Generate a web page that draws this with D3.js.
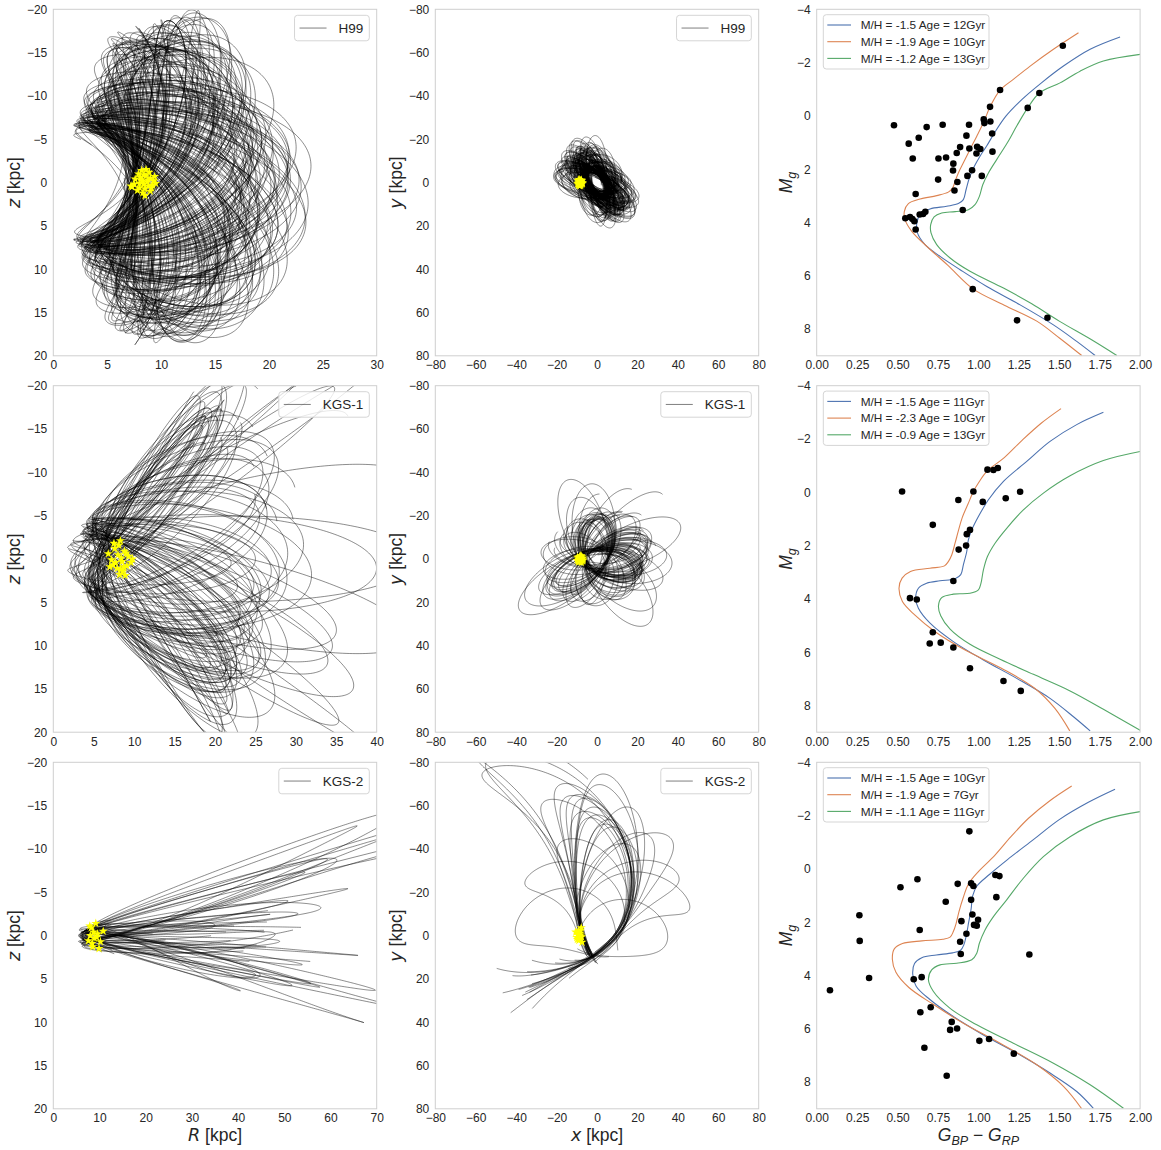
<!DOCTYPE html>
<html>
<head>
<meta charset="utf-8">
<script src="https://cdn.jsdelivr.net/npm/d3@7"></script>
<style>
  body { margin: 0; background: #fff; }
  text { font-family: "Liberation Sans", Arial, sans-serif; fill: #262626; }
</style>
</head>
<body>
<script>
// ---------------- orbit data: one value per member star ----------------
// H99 : peri / apo distance (kpc), orbit inclination, node and pericentre angle (deg),
// azimuth swept per radial period (deg)
const h99Peri  = [7.5, 7.8, 6.9, 8.2, 7.1, 7.4, 7.9, 8.4, 6.8, 7.3, 7.7, 6.8, 8.0, 5.6, 7.4, 7.6, 7.2, 8.3, 7.0, 7.9, 7.0, 7.2, 8.1, 6.6, 7.5, 7.8, 6.9, 8.0, 7.3, 7.7];
const h99Apo   = [19.5, 21.0, 18.2, 23.8, 20.2, 17.5, 22.4, 19.0, 16.8, 20.8, 18.6, 21.6, 23.0, 17.0, 19.8, 22.0, 18.0, 20.5, 21.3, 19.2, 17.8, 22.8, 20.0, 18.8, 21.8, 19.6, 20.6, 22.2, 18.4, 24.0];
const h99Incl  = [66, 62, 70, 58, 68, 72, 60, 65, 74, 63, 69, 61, 57, 71, 66, 59, 70, 64, 62, 67, 73, 58, 65, 69, 60, 67, 63, 59, 71, 56];
const h99Node  = [30, 8, 48, 22, 58, 38, 5, 52, 16, 35, 60, 12, 44, 26, 6, 54, 32, 10, 42, 20, 56, 7, 36, 24, 59, 46, 14, 28, 50, 18];
const h99Omega = [0, 47, 95, 140, 190, 230, 275, 320, 20, 70, 115, 160, 205, 250, 300, 345, 35, 85, 130, 175, 220, 265, 310, 355, 60, 105, 150, 195, 240, 285];
const h99Psi   = [252, 245, 260, 238, 248, 264, 242, 255, 268, 250, 257, 240, 234, 265, 251, 243, 261, 254, 246, 258, 266, 236, 249, 259, 241, 253, 247, 239, 262, 232];
const h99Turns = 7, h99NodeDrift = 4;

// KGS-1
const kgs1Peri  = [5.6, 4.8, 6.4, 4.4, 6.8, 2.2, 5.9, 5.2, 7.0, 3.2, 5.7, 4.6, 6.2, 5.4, 2.7, 6.6, 5.0, 5.8, 4.0, 6.4, 5.3, 5.5, 4.7, 6.1];
const kgs1Apo   = [26, 25, 29, 24, 28, 22, 31, 26, 28, 25, 32, 27, 26, 40, 23, 29, 27, 26, 45, 25, 30, 28, 36, 27];
const kgs1Incl  = [44, 42, 47, 41, 46, 38, 43, 48, 40, 42, 47, 41, 45, 32, 39, 46, 42, 41, 30, 43, 47, 41, 34, 44];
const kgs1Node  = [-35, -25, -45, -22, -40, -33, -48, -30, -28, -50, -36, -20, -42, -38, -32, -46, -27, -24, -44, -34, -26, -41, -31, -39];
const kgs1Omega = [-73, -60, -88, -65, -80, -55, -95, -70, -50, -85, -75, -100, -62, -78, -58, -92, -68, -82, -105, -66, -48, -76, -90, -72];
const kgs1Psi   = [240, 226, 252, 232, 246, 222, 256, 236, 248, 230, 244, 254, 228, 246, 234, 250, 238, 224, 258, 236, 248, 230, 242, 252];
const kgs1Turns = 4.5, kgs1NodeDrift = 5;

// KGS-2 : apocentre direction in the x-y plane (deg), apo / peri distance, tilt of the plane,
// direction of the first pericentre and the length of the track (in radial periods)
const kgs2ApoAngle  = [233, 236, 234, 237, 256, 261, 266, 270, 272, 275, 280, 268, 263, 277, 298, 324, 342, 290, 250, 218, 184, 1, 285, 258, 308, 248, 271, 264];
const kgs2Apo       = [125, 108, 95, 98, 73, 67, 55, 56, 76, 52, 51, 60, 58, 54, 53, 49, 48, 45, 47, 44, 41, 35, 62, 66, 58, 68, 70, 64];
const kgs2Peri      = [6.0, 6.5, 5.5, 7.0, 6.2, 6.8, 5.8, 7.2, 6.4, 5.6, 7.0, 6.3, 7.4, 6.0, 6.6, 7.0, 7.5, 8.0, 8.4, 8.8, 9.5, 9.0, 6.2, 7.0, 6.5, 5.9, 6.8, 6.2];
const kgs2Tilt      = [-9.5, -8, -7.5, 6.5, -9, -11, -8, 6, -12, 7, -5, -9, 6, 4, -4, 3, 5, 8, -3, 7, 9, -4, -10, 2, -6, 8.5, 5.5, -5];
const kgs2PeriAngle = [160, 158, 162, 157, 160, 163, 159, 161, 156, 160, 164, 158, 162, 160, 161, 159, 160, 157, 163, 160, 100, 210, 159, 162, 160, 158, 161, 160];
const kgs2End       = [0.62, 0.7, 1.05, 1.0, 1.33, 1.28, 1.36, 1.3, 1.25, 1.38, 1.32, 1.3, 1.34, 1.3, 1.28, 1.2, 1.15, 1.2, 1.22, 1.1, 1.1, 1.1, 1.36, 1.3, 1.2, 1.3, 1.33, 1.3];
const kgs2Psi = 250;

// present positions of the member stars (yellow stars)
const h99StarR = [8.1, 8.6, 9.0, 8.4, 7.9, 9.3, 8.8, 8.2, 7.6, 9.5, 8.9, 8.5, 7.3, 8.0, 9.1, 8.7, 8.3, 7.8, 9.4, 8.6, 8.1, 7.5, 9.0, 8.4, 8.8, 7.2, 9.2, 8.0, 8.5, 8.3];
const h99StarZ = [-0.3, -0.8, -0.5, 0.2, -1.0, -0.2, 0.4, -1.4, -0.4, 0.1, -1.2, 0.7, 0.5, 0.1, 0.6, -0.1, 1.2, 0.9, -0.7, -1.5, -0.6, 0.2, 1.0, -0.9, -0.3, 0.4, 0.3, 0.6, 1.5, -0.2];
const h99StarX = [-8.1, -8.6, -9.0, -8.4, -7.9, -9.3, -8.8, -8.2, -7.6, -9.5, -8.9, -8.5, -7.3, -8.0, -9.1, -8.7, -8.3, -7.8, -9.4, -8.6, -8.1, -7.5, -9.0, -8.4, -8.8, -7.2, -9.2, -8.0, -8.5, -8.3];
const h99StarY = [0.4, -0.6, 0.9, -0.2, 0.7, -1.0, 0.1, 1.3, -0.8, 0.5, -1.4, 0.2, 0.6, -0.5, 1.1, -0.1, 0.8, -1.2, 0.3, 1.5, -0.7, 0.0, -0.3, 1.0, -1.1, 0.2, 0.7, -0.9, 0.4, -0.4];

const kgs1StarR = [8.0, 8.5, 7.6, 9.1, 8.3, 7.2, 9.6, 8.8, 7.9, 8.2, 9.3, 8.6, 6.8, 7.4, 8.9, 8.1, 9.8, 7.7, 8.4, 8.7, 7.0, 9.0, 8.3, 7.5];
const kgs1StarZ = [-0.5, 0.3, -1.2, 0.8, -2.1, 0.1, 0.4, -0.9, 1.1, 1.8, -0.3, 1.4, -0.6, 0.7, 1.9, -1.6, 0.0, 0.4, -0.1, 0.9, 0.9, -0.7, 1.2, -1.8];
const kgs1StarX = [-8.0, -8.5, -7.6, -9.1, -8.3, -7.2, -9.6, -8.8, -7.9, -8.2, -9.3, -8.6, -6.8, -7.4, -8.9, -8.1, -9.8, -7.7, -8.4, -8.7, -7.0, -9.0, -8.3, -7.5];
const kgs1StarY = [0.6, -1.1, 0.2, 1.4, -0.4, 0.9, -0.8, 0.3, -1.5, 1.1, 0.0, -0.6, 0.5, -0.2, 1.2, -1.3, 0.7, 1.6, -0.9, 0.1, -0.5, 0.8, 1.0, -1.0];

const kgs2StarR = [8.2, 8.9, 9.6, 7.6, 10.8, 8.5, 9.2, 8.0, 10.2, 8.7, 9.9, 8.4, 7.9, 9.4];
const kgs2StarZ = [-0.9, 0.3, -0.2, 0.6, -0.5, 1.3, -1.4, 0.0, 0.7, -0.4, 1.5, 0.9, -1.1, 0.2];
const kgs2StarX = [-8.1, -8.7, -9.5, -7.4, -10.5, -8.3, -9.0, -7.8, -10.0, -8.5, -9.7, -8.2, -7.6, -9.2];
const kgs2StarY = [-2.5, 1.2, -0.4, 3.1, -1.6, 0.3, 2.2, -3.6, 0.9, -1.0, 1.8, -0.3, 0.6, -2.0];

// ---------------- colour-magnitude data: [G_BP - G_RP, M_g] ----------------
const h99IsoBlue   = [[1.876,-2.96],[1.691,-2.5],[1.526,-1.87],[1.39,-1.24],[1.27,-0.62],[1.17,0.01],[1.1,0.63],[1.05,1.14],[1.01,1.51],[0.975,1.89],[0.944,2.33],[0.924,2.76],[0.907,3.14],[0.876,3.29],[0.804,3.39],[0.701,3.49],[0.639,3.7],[0.619,4.02],[0.623,4.39],[0.67,4.83],[0.763,5.27],[0.887,5.77],[1.052,6.4],[1.258,7.09],[1.464,7.84],[1.608,8.46],[1.722,8.99]];
const h99IsoOrange = [[1.619,-3.12],[1.464,-2.5],[1.32,-1.87],[1.216,-1.37],[1.134,-0.97],[1.072,-0.34],[1.035,0.2],[0.99,0.76],[0.948,1.26],[0.907,1.76],[0.876,2.14],[0.856,2.45],[0.841,2.7],[0.814,2.86],[0.742,2.99],[0.639,3.12],[0.567,3.29],[0.542,3.58],[0.546,3.89],[0.588,4.33],[0.68,4.89],[0.81,5.6],[0.969,6.5],[1.16,7.1],[1.361,7.7],[1.505,8.35],[1.639,8.99]];
const h99IsoGreen  = [[2.0,-2.31],[1.773,-2.06],[1.629,-1.68],[1.505,-1.24],[1.377,-0.86],[1.305,-0.3],[1.237,0.38],[1.179,1.01],[1.113,1.64],[1.062,2.14],[1.027,2.58],[1.006,3.02],[0.979,3.33],[0.938,3.52],[0.856,3.59],[0.773,3.64],[0.726,3.79],[0.705,4.08],[0.707,4.39],[0.742,4.83],[0.825,5.33],[0.948,5.83],[1.155,6.46],[1.33,7.05],[1.5,7.7],[1.7,8.4],[1.856,8.99]];
const h99Dots = [[1.522,-2.63],[1.134,-0.97],[1.377,-0.86],[1.072,-0.34],[1.305,-0.3],[0.478,0.35],[0.779,0.33],[0.942,0.33],[0.68,0.42],[1.033,0.13],[1.037,0.27],[1.074,0.21],[0.926,0.74],[1.085,0.66],[0.631,0.82],[0.569,1.04],[0.887,1.17],[0.944,1.22],[0.992,1.16],[1.012,1.24],[0.866,1.39],[0.988,1.41],[1.087,1.34],[0.594,1.6],[0.753,1.6],[0.8,1.56],[0.845,1.79],[0.843,2.05],[0.961,2.04],[0.932,2.25],[1.021,2.25],[0.751,2.39],[0.87,2.48],[0.852,2.8],[0.612,2.93],[0.903,3.53],[0.672,3.6],[0.658,3.68],[0.637,3.7],[0.548,3.84],[0.577,3.79],[0.592,3.87],[0.604,3.95],[0.612,4.26],[0.965,6.5],[1.239,7.67],[1.427,7.57]];
const h99IsoLabels = ["M/H = -1.5 Age = 12Gyr", "M/H = -1.9 Age = 10Gyr", "M/H = -1.2 Age = 13Gyr"];

const kgs1IsoBlue   = [[1.773,-3.0],[1.608,-2.54],[1.443,-1.91],[1.299,-1.16],[1.155,-0.41],[1.062,0.28],[1.0,0.91],[0.959,1.41],[0.938,1.78],[0.928,2.22],[0.907,2.72],[0.891,3.09],[0.856,3.24],[0.763,3.32],[0.68,3.41],[0.629,3.6],[0.612,3.97],[0.629,4.35],[0.701,4.91],[0.845,5.6],[1.031,6.29],[1.237,6.98],[1.443,7.73],[1.588,8.42],[1.691,8.95]];
const kgs1IsoOrange = [[1.511,-3.14],[1.39,-2.6],[1.27,-1.95],[1.16,-1.3],[1.056,-0.81],[1.0,-0.35],[0.969,-0.03],[0.935,0.45],[0.9,0.95],[0.876,1.45],[0.856,1.9],[0.835,2.35],[0.814,2.6],[0.79,2.76],[0.7,2.85],[0.58,2.97],[0.528,3.22],[0.509,3.6],[0.53,4.1],[0.606,4.6],[0.73,5.22],[0.915,5.91],[1.142,6.6],[1.348,7.35],[1.472,8.1],[1.565,8.95]];
const kgs1IsoGreen  = [[2.0,-1.53],[1.773,-1.19],[1.567,-0.62],[1.402,0.03],[1.278,0.66],[1.175,1.35],[1.103,1.91],[1.056,2.41],[1.031,2.91],[1.016,3.41],[1.0,3.66],[0.948,3.79],[0.845,3.82],[0.773,3.95],[0.753,4.26],[0.767,4.63],[0.825,5.13],[0.948,5.7],[1.134,6.26],[1.34,6.83],[1.567,7.45],[1.773,8.14],[2.0,8.93]];
const kgs1Dots = [[0.528,-0.03],[1.056,-0.85],[1.093,-0.84],[1.12,-0.91],[0.969,-0.03],[1.258,-0.02],[0.876,0.29],[1.027,0.36],[1.169,0.22],[0.718,1.22],[0.948,1.41],[0.928,1.57],[0.924,2.0],[0.878,2.15],[0.845,3.33],[0.577,3.97],[0.619,4.02],[0.718,5.25],[0.699,5.67],[0.767,5.64],[0.845,5.82],[0.948,6.6],[1.155,7.08],[1.262,7.45]];
const kgs1IsoLabels = ["M/H = -1.5 Age = 11Gyr", "M/H = -2.3 Age = 10Gyr", "M/H = -0.9 Age = 13Gyr"];

const kgs2IsoBlue   = [[1.845,-2.99],[1.68,-2.5],[1.5,-1.85],[1.34,-1.1],[1.18,-0.35],[1.07,0.2],[0.99,0.65],[0.965,1.0],[0.955,1.5],[0.94,2.0],[0.925,2.5],[0.91,2.85],[0.89,3.05],[0.84,3.15],[0.74,3.23],[0.65,3.33],[0.605,3.55],[0.594,3.95],[0.615,4.4],[0.7,4.9],[0.845,5.54],[1.031,6.23],[1.237,6.91],[1.443,7.66],[1.608,8.35],[1.711,8.98]];
const kgs2IsoOrange = [[1.577,-3.11],[1.44,-2.55],[1.31,-1.9],[1.2,-1.2],[1.1,-0.5],[1.0,0.1],[0.94,0.55],[0.905,1.1],[0.88,1.6],[0.862,2.05],[0.845,2.35],[0.825,2.56],[0.78,2.64],[0.65,2.7],[0.53,2.8],[0.48,3.0],[0.468,3.4],[0.49,3.88],[0.57,4.45],[0.72,5.08],[0.907,5.79],[1.134,6.54],[1.361,7.35],[1.526,8.16],[1.639,9.0]];
const kgs2IsoGreen  = [[2.0,-2.15],[1.773,-1.84],[1.567,-1.21],[1.402,-0.46],[1.278,0.35],[1.175,1.16],[1.093,1.79],[1.041,2.29],[1.006,2.79],[0.99,3.16],[0.959,3.41],[0.866,3.54],[0.763,3.6],[0.711,3.79],[0.691,4.16],[0.722,4.6],[0.825,5.23],[0.99,5.85],[1.216,6.54],[1.464,7.29],[1.691,8.1],[1.897,8.98]];
const kgs2Dots = [[0.944,-1.41],[1.105,0.23],[1.13,0.27],[0.623,0.39],[0.518,0.69],[0.872,0.56],[0.955,0.54],[0.969,0.64],[0.798,1.23],[0.955,1.16],[1.111,1.06],[0.264,1.74],[0.963,1.71],[0.895,1.96],[0.998,1.91],[0.973,2.1],[0.99,2.13],[0.637,2.29],[0.926,2.43],[0.266,2.7],[0.887,2.73],[0.891,3.19],[1.315,3.21],[0.324,4.09],[0.6,4.14],[0.649,4.06],[0.082,4.55],[0.705,5.19],[0.641,5.38],[0.835,5.74],[0.825,6.04],[0.868,5.99],[1.006,6.45],[1.066,6.38],[1.219,6.93],[0.666,6.71],[0.804,7.76]];
const kgs2IsoLabels = ["M/H = -1.5 Age = 10Gyr", "M/H = -1.9 Age = 7Gyr", "M/H = -1.1 Age = 11Gyr"];

const isoColors = ["#4c72b0", "#dd8452", "#55a868"];

// ---------------- layout ----------------
const colLeft = [53.3, 435.3, 816.7], rowTop = [9.3, 385.7, 762.3];
const pw = 323.4, ph = 346.5;
const rad = Math.PI / 180;
const mathFont = "'DejaVu Sans', sans-serif";

const svg = d3.select("body").append("svg").attr("width", 1161).attr("height", 1150);

function makePanel(col, row, xDom, yDom, xTicks, yTicks, xFmt, yFmt) {
  const left = colLeft[col], top = rowTop[row];
  const x = d3.scaleLinear().domain(xDom).range([left, left + pw]);
  const y = d3.scaleLinear().domain(yDom).range([top, top + ph]);
  const id = "clip-" + col + "-" + row;
  svg.append("clipPath").attr("id", id).append("rect")
    .attr("x", left).attr("y", top).attr("width", pw).attr("height", ph);
  const g = svg.append("g");
  const plot = g.append("g").attr("clip-path", "url(#" + id + ")");
  g.append("g").attr("transform", `translate(0,${top + ph})`)
    .call(d3.axisBottom(x).tickValues(xTicks).tickFormat(xFmt).tickSize(0).tickPadding(5))
    .call(a => a.select(".domain").remove())
    .attr("font-size", 12).attr("font-family", "'Liberation Sans', Arial, sans-serif")
    .selectAll("text").attr("fill", "#262626");
  g.append("g").attr("transform", `translate(${left},0)`)
    .call(d3.axisLeft(y).tickValues(yTicks).tickFormat(yFmt).tickSize(0).tickPadding(6))
    .call(a => a.select(".domain").remove())
    .attr("font-size", 12).attr("font-family", "'Liberation Sans', Arial, sans-serif")
    .selectAll("text").attr("fill", "#262626");
  g.append("rect").attr("x", left).attr("y", top).attr("width", pw).attr("height", ph)
    .attr("fill", "none").attr("stroke", "#cfcfcf").attr("stroke-width", 1);
  return { x, y, plot, g, left, top };
}

// loop orbit: radial motion of a Kepler ellipse, azimuth scaled so one radial
// period sweeps psi degrees; the node drifts slowly
function orbitTrack(rp, ra, inc, node, w, e0, e1, psi, nodeDrift, skew, perTurn) {
  const a = (rp + ra) / 2, e = (ra - rp) / (ra + rp);
  const ci = Math.cos(inc * rad), si = Math.sin(inc * rad);
  const n = Math.ceil((e1 - e0) * perTurn);
  const pts = [];
  for (let k = 0; k <= n; k++) {
    const turn = e0 + (e1 - e0) * k / n;
    const E = 2 * Math.PI * turn;
    const r = a * (1 - e * Math.cos(E));
    let nu = 2 * Math.atan2(Math.sqrt(1 + e) * Math.sin(E / 2), Math.sqrt(1 - e) * Math.cos(E / 2));
    nu += 2 * Math.PI * Math.round((E - nu) / (2 * Math.PI));
    const s = Math.sin(E / 2);
    const th = nu * psi / 360 + (w + skew * s * s) * rad;
    const om = (node + nodeDrift * turn) * rad;
    const u = r * Math.cos(th), v = r * Math.sin(th);
    pts.push([u * Math.cos(om) - v * ci * Math.sin(om),
              u * Math.sin(om) + v * ci * Math.cos(om),
              v * si]);
  }
  return pts;
}

const h99Tracks = h99Peri.map((rp, i) => orbitTrack(rp, h99Apo[i], h99Incl[i], h99Node[i], h99Omega[i],
  0, h99Turns, h99Psi[i], h99NodeDrift, 0, 240));
const kgs1Tracks = kgs1Peri.map((rp, i) => orbitTrack(rp, kgs1Apo[i], kgs1Incl[i], kgs1Node[i], kgs1Omega[i],
  0, kgs1Turns, kgs1Psi[i], kgs1NodeDrift, 0, 240));
const kgs2Tracks = kgs2Peri.map((rp, i) => {
  const phi = kgs2PeriAngle[i];
  const skew = ((kgs2ApoAngle[i] - phi - kgs2Psi / 2) % 360 + 540) % 360 - 180;
  return orbitTrack(rp, kgs2Apo[i], kgs2Tilt[i], phi, 0, -0.08, kgs2End[i], kgs2Psi, 0, skew, 360);
});

function drawOrbits(pRz, pXy, tracks, starR, starZ, starX, starY) {
  const lineRz = d3.line().x(d => pRz.x(Math.hypot(d[0], d[1]))).y(d => pRz.y(d[2]));
  const lineXy = d3.line().x(d => pXy.x(d[0])).y(d => pXy.y(d[1]));
  [[pRz, lineRz], [pXy, lineXy]].forEach(([p, ln]) => {
    p.plot.selectAll(null).data(tracks).join("path")
      .attr("d", ln).attr("fill", "none")
      .attr("stroke", "#000").attr("stroke-opacity", 0.5).attr("stroke-width", 0.9);
  });
  const star = d3.symbol().type(d3.symbolStar).size(26);
  pRz.plot.selectAll(null).data(starR).join("path").attr("d", star)
    .attr("transform", (d, i) => `translate(${pRz.x(d)},${pRz.y(starZ[i])})`).attr("fill", "#ffff00");
  pXy.plot.selectAll(null).data(starX).join("path").attr("d", star)
    .attr("transform", (d, i) => `translate(${pXy.x(d)},${pXy.y(starY[i])})`).attr("fill", "#ffff00");
}

function orbitLegend(p, label) {
  const lg = p.g.append("g");
  const box = lg.append("rect");
  const t = lg.append("text").text(label).attr("font-size", 13.5).attr("dy", "0.35em");
  const tw = t.node().getComputedTextLength();
  const bw = 5 + 27 + 12 + tw + 6, bh = 25.5;
  const bx = p.left + pw - 7.4 - bw, by = p.top + 6;
  box.attr("x", bx).attr("y", by).attr("width", bw).attr("height", bh).attr("rx", 3)
    .attr("fill", "#fff").attr("fill-opacity", 0.8).attr("stroke", "#d5d5d5");
  lg.append("line").attr("x1", bx + 5).attr("x2", bx + 32).attr("y1", by + bh / 2).attr("y2", by + bh / 2)
    .attr("stroke", "#000").attr("stroke-opacity", 0.5).attr("stroke-width", 1);
  t.attr("x", bx + 44).attr("y", by + bh / 2);
}

function drawCmd(p, isos, dots, labels) {
  const line = d3.line().curve(d3.curveCatmullRom).x(d => p.x(d[0])).y(d => p.y(d[1]));
  p.plot.selectAll(null).data(isos).join("path").attr("d", line).attr("fill", "none")
    .attr("stroke", (d, i) => isoColors[i]).attr("stroke-width", 1.1);
  p.plot.selectAll(null).data(dots).join("circle")
    .attr("cx", d => p.x(d[0])).attr("cy", d => p.y(d[1])).attr("r", 3.3).attr("fill", "#000");
  const lg = p.g.append("g");
  const bx = p.left + 6.6, by = p.top + 5.4;
  lg.append("rect").attr("x", bx).attr("y", by).attr("width", 165.7).attr("height", 54.3).attr("rx", 3)
    .attr("fill", "#fff").attr("fill-opacity", 0.8).attr("stroke", "#d5d5d5");
  labels.forEach((lab, i) => {
    const yy = by + 10.3 + i * 16.7;
    lg.append("line").attr("x1", bx + 4).attr("x2", bx + 27.7).attr("y1", yy).attr("y2", yy)
      .attr("stroke", isoColors[i]).attr("stroke-width", 1.1);
    lg.append("text").attr("x", bx + 37.4).attr("y", yy).attr("dy", "0.35em")
      .attr("font-size", 11.8).text(lab);
  });
}

// ---------------- panels ----------------
const fInt = d3.format("d"), f2 = d3.format(".2f");
const zTicks = d3.range(-20, 21, 5), xyTicks = d3.range(-80, 81, 20);
const magTicks = d3.range(-4, 9, 2), colTicks = d3.range(0, 2.01, 0.25);
const rMax = [30, 40, 70];
const rTicks = [d3.range(0, 31, 5), d3.range(0, 41, 5), d3.range(0, 71, 10)];
const allTracks = [h99Tracks, kgs1Tracks, kgs2Tracks];
const names = ["H99", "KGS-1", "KGS-2"];
const starSets = [
  [h99StarR, h99StarZ, h99StarX, h99StarY],
  [kgs1StarR, kgs1StarZ, kgs1StarX, kgs1StarY],
  [kgs2StarR, kgs2StarZ, kgs2StarX, kgs2StarY]
];
const cmdSets = [
  [[h99IsoBlue, h99IsoOrange, h99IsoGreen], h99Dots, h99IsoLabels],
  [[kgs1IsoBlue, kgs1IsoOrange, kgs1IsoGreen], kgs1Dots, kgs1IsoLabels],
  [[kgs2IsoBlue, kgs2IsoOrange, kgs2IsoGreen], kgs2Dots, kgs2IsoLabels]
];

for (let row = 0; row < 3; row++) {
  const pRz = makePanel(0, row, [0, rMax[row]], [-20, 20], rTicks[row], zTicks, fInt, fInt);
  const pXy = makePanel(1, row, [-80, 80], [-80, 80], xyTicks, xyTicks, fInt, fInt);
  const pCmd = makePanel(2, row, [0, 2], [-4, 9], colTicks, magTicks, f2, fInt);
  const s = starSets[row];
  drawOrbits(pRz, pXy, allTracks[row], s[0], s[1], s[2], s[3]);
  orbitLegend(pRz, names[row]);
  orbitLegend(pXy, names[row]);
  drawCmd(pCmd, cmdSets[row][0], cmdSets[row][1], cmdSets[row][2]);

  const cy = rowTop[row] + ph / 2;
  const zl = svg.append("text").attr("transform", `translate(20,${cy}) rotate(-90)`)
    .attr("text-anchor", "middle").attr("font-size", 17.5);
  zl.append("tspan").attr("font-family", mathFont).attr("font-style", "italic").text("z");
  zl.append("tspan").text(" [kpc]");
  const yl = svg.append("text").attr("transform", `translate(402,${cy}) rotate(-90)`)
    .attr("text-anchor", "middle").attr("font-size", 17.5);
  yl.append("tspan").attr("font-family", mathFont).attr("font-style", "italic").text("y");
  yl.append("tspan").text(" [kpc]");
  const ml = svg.append("text").attr("transform", `translate(792,${cy}) rotate(-90)`)
    .attr("text-anchor", "middle").attr("font-size", 17.5)
    .attr("font-family", mathFont).attr("font-style", "italic");
  ml.append("tspan").text("M");
  ml.append("tspan").attr("font-size", 12.5).attr("dy", 4).text("g");
}

// bottom axis titles
const by = 1141;
const rl = svg.append("text").attr("x", colLeft[0] + pw / 2).attr("y", by)
  .attr("text-anchor", "middle").attr("font-size", 17.5);
rl.append("tspan").attr("font-family", mathFont).attr("font-style", "italic").text("R");
rl.append("tspan").text(" [kpc]");
const xl = svg.append("text").attr("x", colLeft[1] + pw / 2).attr("y", by)
  .attr("text-anchor", "middle").attr("font-size", 17.5);
xl.append("tspan").attr("font-family", mathFont).attr("font-style", "italic").text("x");
xl.append("tspan").text(" [kpc]");
const gl = svg.append("text").attr("x", colLeft[2] + pw / 2).attr("y", by)
  .attr("text-anchor", "middle").attr("font-size", 17.5)
  .attr("font-family", mathFont).attr("font-style", "italic");
gl.append("tspan").text("G");
gl.append("tspan").attr("font-size", 12.5).attr("dy", 4).text("BP");
gl.append("tspan").attr("dy", -4).attr("font-style", "normal").text(" \u2212 ");
gl.append("tspan").text("G");
gl.append("tspan").attr("font-size", 12.5).attr("dy", 4).text("RP");
</script>
</body>
</html>
